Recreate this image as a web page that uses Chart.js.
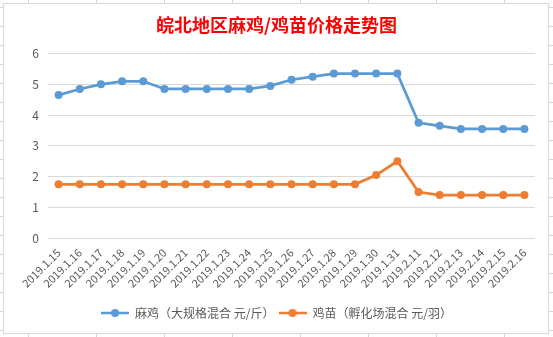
<!DOCTYPE html>
<html>
<head>
<meta charset="utf-8">
<script src="https://cdn.jsdelivr.net/npm/chart.js@4"></script>
<style>
  html, body { margin: 0; padding: 0; }
  body {
    width: 553px; height: 337px; overflow: hidden;
    background-color: #fff;
    background-image:
      linear-gradient(to right, #d4d4d4 1px, transparent 1px),
      linear-gradient(to bottom, #d4d4d4 1px, transparent 1px);
    background-size: 68px 19px;
    background-position: 28px 7px;
  }
  #box {
    position: absolute; left: 3px; top: 3px;
    width: 544px; height: 329px;
    background: #fff; border: 1px solid #d9d9d9;
  }
</style>
</head>
<body>
<div id="box"><canvas id="priceChart"></canvas></div>
<script>
const dates = [
  '2019.1.15', '2019.1.16', '2019.1.17', '2019.1.18', '2019.1.19', '2019.1.20',
  '2019.1.21', '2019.1.22', '2019.1.23', '2019.1.24', '2019.1.25', '2019.1.26',
  '2019.1.27', '2019.1.28', '2019.1.29', '2019.1.30', '2019.1.31',
  '2019.2.11', '2019.2.12', '2019.2.13', '2019.2.14', '2019.2.15', '2019.2.16'
];
const majiPrices = [
  4.65, 4.85, 5.0, 5.1, 5.1, 4.85, 4.85, 4.85, 4.85, 4.85, 4.95, 5.15,
  5.25, 5.35, 5.35, 5.35, 5.35, 3.75, 3.65, 3.55, 3.55, 3.55, 3.55
];
const jimiaoPrices = [
  1.75, 1.75, 1.75, 1.75, 1.75, 1.75, 1.75, 1.75, 1.75, 1.75, 1.75, 1.75,
  1.75, 1.75, 1.75, 2.05, 2.5, 1.5, 1.4, 1.4, 1.4, 1.4, 1.4
];
const seriesNames = ['麻鸡（大规格混合 元/斤）', '鸡苗（孵化场混合 元/羽）'];
const seriesColors = ['#5b9bd5', '#ed7d31'];

const fontFamily = '"Noto Sans CJK SC", "Noto Sans", sans-serif';
const textColor = '#595959';

// legend marker: short line with a dot in the middle
function legendMarker(color) {
  const c = document.createElement('canvas');
  c.width = 28; c.height = 10;
  const g = c.getContext('2d');
  g.strokeStyle = color;
  g.lineWidth = 2.5;
  g.beginPath(); g.moveTo(0, 5); g.lineTo(28, 5); g.stroke();
  g.fillStyle = color;
  g.beginPath(); g.arc(14, 5, 4, 0, Math.PI * 2); g.fill();
  return c;
}
const markers = seriesColors.map(legendMarker);

const ctx = document.getElementById('priceChart').getContext('2d');
new Chart(ctx, {
  type: 'line',
  data: {
    labels: dates,
    datasets: [
      {
        label: seriesNames[0],
        data: majiPrices,
        borderColor: seriesColors[0],
        backgroundColor: seriesColors[0],
        borderWidth: 2.75,
        pointRadius: 4,
        pointBorderWidth: 0,
        tension: 0
      },
      {
        label: seriesNames[1],
        data: jimiaoPrices,
        borderColor: seriesColors[1],
        backgroundColor: seriesColors[1],
        borderWidth: 2.75,
        pointRadius: 4,
        pointBorderWidth: 0,
        tension: 0
      }
    ]
  },
  options: {
    responsive: true,
    maintainAspectRatio: false,
    animation: false,
    layout: { padding: { left: 14, right: 13, bottom: 4 } },
    scales: {
      x: {
        offset: true,
        afterFit: scale => { scale.height += 13; },
        grid: { display: false },
        border: { display: false },
        ticks: {
          autoSkip: false,
          minRotation: 45,
          maxRotation: 45,
          padding: 0,
          color: textColor,
          font: { family: fontFamily, size: 11 }
        }
      },
      y: {
        min: 0,
        max: 6,
        afterFit: scale => { scale.width = 30; },
        grid: { color: '#d9d9d9', drawTicks: false },
        border: { display: false },
        ticks: {
          stepSize: 1,
          padding: 9,
          color: textColor,
          font: { family: fontFamily, size: 12 }
        }
      }
    },
    plugins: {
      title: {
        display: true,
        text: '皖北地区麻鸡/鸡苗价格走势图',
        color: '#ff0000',
        font: { family: fontFamily, size: 18, weight: 'bold' },
        padding: { top: 10, bottom: 18 }
      },
      legend: {
        position: 'bottom',
        labels: {
          usePointStyle: true,
          pointStyleWidth: 28,
          boxHeight: 10,
          padding: 4,
          color: textColor,
          font: { family: fontFamily, size: 12 },
          generateLabels: chart => {
            const items = Chart.defaults.plugins.legend.labels.generateLabels(chart);
            items.forEach((item, i) => { item.pointStyle = markers[i]; });
            return items;
          }
        }
      },
      tooltip: { enabled: false }
    }
  }
});
</script>
</body>
</html>
